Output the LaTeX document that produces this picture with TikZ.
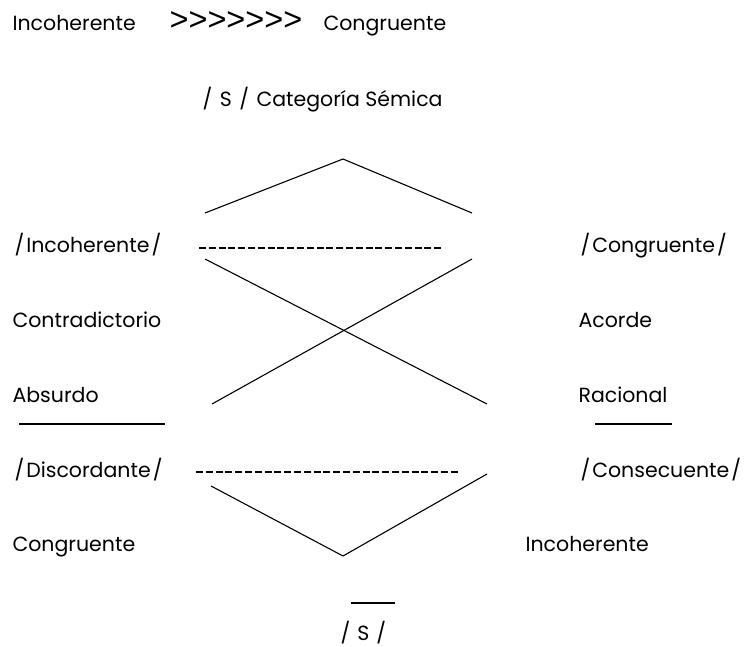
\documentclass[tikz,border=0pt]{standalone}
\usepackage{fontspec}
\setmainfont{Poppins}
\newfontfamily\flechafont{Liberation Sans}
\usetikzlibrary{calc}

\newcommand{\flechas}{{\flechafont\fontsize{32.5}{33}\selectfont >\kern0pt>\kern0pt>\kern0pt>\kern0pt>\kern0pt>\kern0pt>}}
\newcommand{\barra}{\kern2pt/\kern2pt}

\begin{document}
\begin{tikzpicture}[x=1pt,y=-1pt,line width=1.1pt,
	lbl/.style={anchor=base west,inner sep=0pt,font=\fontsize{20.5}{24}\selectfont},
	dashline/.style={dash pattern=on 7pt off 2.8pt,line width=1.4pt}]
			\useasboundingbox (0,0) rectangle (755,647);
			
			\node[lbl] (inctop) at (12,31) {Incoherente};
			\node[lbl] (flecha) at (169,31) {\flechas};
			\node[lbl] (congtop) at (323,31) {Congruente};
			\node[lbl] (cat) at (200,107) {\barra{} S \barra{} Categoría Sémica};
			
			\coordinate (A) at (343,159);
			\coordinate (B) at (205,213);
			\coordinate (E) at (472,213);
			\coordinate (C) at (205,259);
			\coordinate (D) at (472,259);
			\coordinate (F) at (212,404);
			\coordinate (G) at (487,404);
			\coordinate (H) at (211,486);
			\coordinate (K) at (487,474);
			\coordinate (L) at (343,556);
			
			\node[lbl] (inc) at (12,252) {\barra Incoherente\barra};
			\node[lbl] (con) at (578,252) {\barra Congruente\barra};
			\node[lbl] (contra) at (12,327) {Contradictorio};
			\node[lbl] (aco) at (578,327) {Acorde};
			\node[lbl] (abs) at (12,402) {Absurdo};
			\node[lbl] (rac) at (578,402) {Racional};
			\node[lbl] (dis) at (12,477) {\barra Discordante\barra};
			\node[lbl] (cons) at (578,477) {\barra Consecuente\barra};
			\node[lbl] (cong) at (12,551) {Congruente};
			\node[lbl] (incb) at (525,551) {Incoherente};
			\node[lbl] (s) at (338,640) {\barra\hspace{5pt}S\hspace{5pt}\barra};
			
			\draw (B)--(A)--(E);
			\draw (C)--(G);
			\draw (D)--(F);
			\draw (H)--(L)--(K);
			\draw[dashline] (199,248)--(441,248);
			\draw[dashline] (196,472)--(458,472);
			\draw (19,424)--(165,424);
			\draw (595,424)--(672,424);
			\draw (351,603)--(395,603);
			\end{tikzpicture}
\end{document}
